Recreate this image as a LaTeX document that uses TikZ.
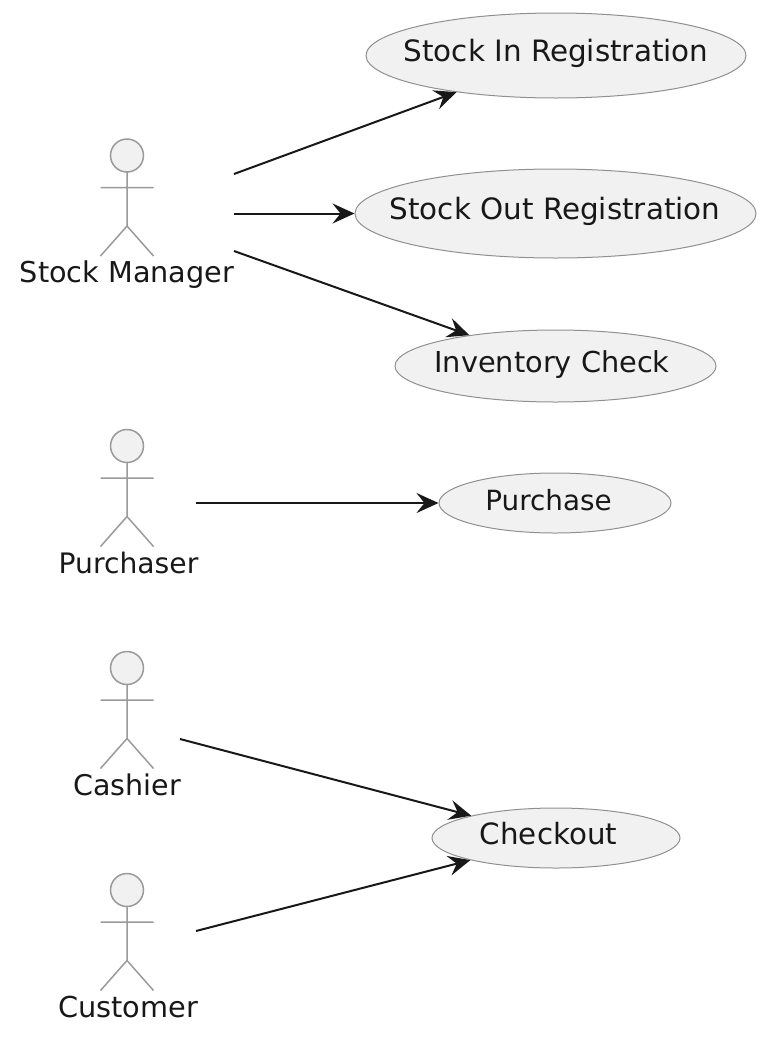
\documentclass[tikz,border=0pt]{standalone}
\usepackage{fontspec}
\setmainfont{DejaVu Sans}
\usetikzlibrary{arrows.meta,shapes.geometric}
\definecolor{casefill}{HTML}{F1F1F1}
\definecolor{caseline}{HTML}{909090}
\definecolor{stickline}{HTML}{9A9A9A}
\definecolor{ink}{HTML}{181818}
% text that does not widen its ellipse, moved by dx and dy
\newcommand{\casetxt}[4]{\makebox[0pt][l]{\hspace*{#1pt}\makebox[0pt]{\raisebox{#2pt}{\fontsize{#3}{30}\selectfont #4}}}}
\newcommand{\whotxt}[2]{\fontsize{#1}{30}\selectfont #2}
\tikzset{
  usecase/.style={ellipse,draw=caseline,fill=casefill,line width=1pt,inner sep=0pt,text=ink,
    text height=16pt,text depth=5pt},
  head/.style={circle,draw=stickline,fill=casefill,line width=1.5pt,inner sep=0pt,minimum size=33pt},
  stick/.style={draw=stickline,line width=1.5pt},
  who/.style={text=ink,inner sep=0pt,anchor=base},
  link/.style={ink,line width=2pt,-{Stealth[length=22pt,width=20pt,inset=8pt]}}
}
\begin{document}
\begin{tikzpicture}[x=1pt,y=-1pt]
\useasboundingbox (0,0) rectangle (767,1058);
\pgfmathsetmacro{\xact}{127}
\pgfmathsetmacro{\bras}{26.5}
% use cases
  \node[usecase,minimum width=380pt,minimum height=85pt] (stockin) at (556,55.5) {\casetxt{0}{0}{29.4}{Stock In Registration}};
  \node[usecase,minimum width=401pt,minimum height=89pt] (stockout) at (555.5,213.5) {\casetxt{-0.5}{0}{29.4}{Stock Out Registration}};
  \node[usecase,minimum width=321pt,minimum height=72pt] (inventory) at (555.5,366) {\casetxt{-3.5}{-1}{28.8}{Inventory Check}};
  \node[usecase,minimum width=232pt,minimum height=60pt] (purchase) at (555,503) {\casetxt{-6.5}{-2}{27.8}{Purchase}};
  \node[usecase,minimum width=248pt,minimum height=60pt] (checkout) at (556,838) {\casetxt{-7.5}{-1}{29.3}{Checkout}};
% actors
  \draw[shift={(\xact,0)},stick] (0,172) -- (0,226) (-\bras,187.5) -- (\bras,187.5) (-\bras,256) -- (0,226) -- (\bras,256);
  \node[head] (managerhead) at (\xact,155.5) {};
  \node[who] (manager) at (\xact,282.5) {\whotxt{28.7}{Stock Manager}};
  \draw[shift={(\xact,290.5)},stick] (0,172) -- (0,226) (-\bras,187.5) -- (\bras,187.5) (-\bras,256) -- (0,226) -- (\bras,256);
  \node[head] (purchaserhead) at (\xact,446) {};
  \node[who] (purchaser) at (128.5,573) {\whotxt{28.2}{Purchaser}};
  \draw[shift={(\xact,512.5)},stick] (0,172) -- (0,226) (-\bras,187.5) -- (\bras,187.5) (-\bras,256) -- (0,226) -- (\bras,256);
  \node[head] (cashierhead) at (\xact,668) {};
  \node[who] (cashier) at (\xact,795) {\whotxt{28.5}{Cashier}};
  \draw[shift={(\xact,734.5)},stick] (0,172) -- (0,226) (-\bras,187.5) -- (\bras,187.5) (-\bras,256) -- (0,226) -- (\bras,256);
  \node[head] (customerhead) at (\xact,890) {};
  \node[who] (customer) at (128,1017) {\whotxt{28.8}{Customer}};
% free ends of the links
  \coordinate (managerA) at (234,174);
  \coordinate (managerB) at (234,213.5);
  \coordinate (managerC) at (234,251);
  \coordinate (purchaserA) at (196,503);
  \coordinate (cashierA) at (180,739);
  \coordinate (customerA) at (196,931);
  \draw[link] (managerA) -- (stockin);
  \draw[link] (managerB) -- (stockout);
  \draw[link] (managerC) -- (inventory);
  \draw[link] (purchaserA) -- (purchase);
  \draw[link] (cashierA) -- (checkout);
  \draw[link] (customerA) -- (checkout);
\end{tikzpicture}
\end{document}
